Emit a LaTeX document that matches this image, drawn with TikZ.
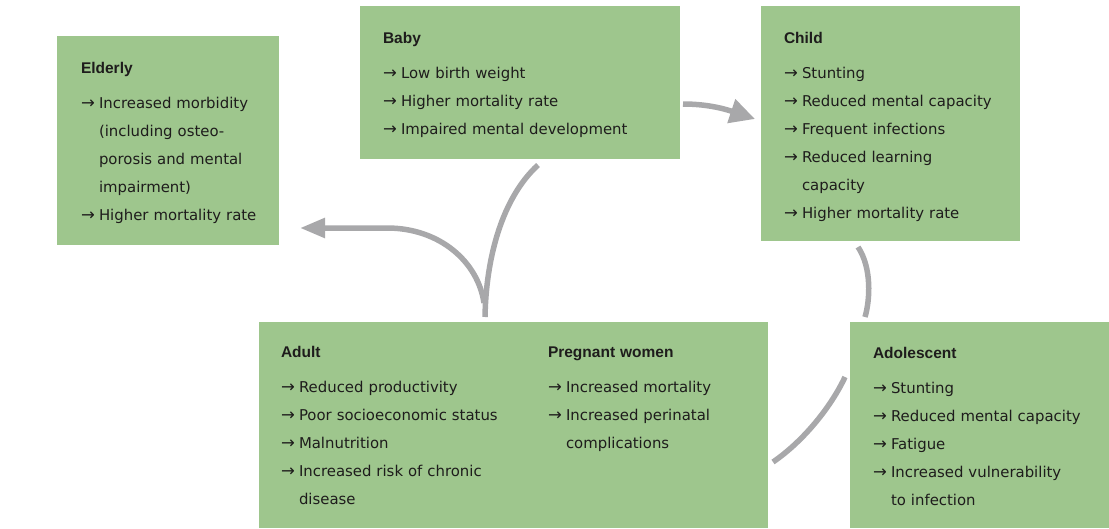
\documentclass[tikz,border=0pt]{standalone}
\usepackage{fontspec}
\setmainfont{Liberation Sans}
\newfontfamily\bodyf{DejaVu Sans}
\newfontfamily\headf{Liberation Sans}
\usetikzlibrary{arrows.meta}
\hyphenpenalty=10000
\exhyphenpenalty=10000
\definecolor{boxgreen}{RGB}{158,198,141}
\definecolor{conngray}{RGB}{168,168,170}
\definecolor{txtc}{RGB}{30,28,28}
\newcommand{\ar}{\makebox[18pt][l]{\fontsize{16.5}{28}\selectfont →}}
\newcommand{\ind}{\hspace*{18pt}}
\newcommand{\hd}[1]{\rule{0pt}{13pt}{\headf\bfseries\fontsize{15.5}{28}\selectfont #1}\\[7pt]}
\tikzset{
  box/.style={fill=boxgreen, draw=none, inner sep=0pt, outer sep=0pt, anchor=north west},
  txt/.style={anchor=north west, inner sep=0pt, outer sep=0pt, align=left, text width=320pt,
              text=txtc, font=\bodyf\fontsize{14.9}{28}\selectfont},
  conn/.style={draw=conngray, line width=5.5pt},
}
\begin{document}
\begin{tikzpicture}[x=1pt,y=-1pt]
\useasboundingbox (0,0) rectangle (1109,528);
% boxes
\node[box, minimum width=222pt, minimum height=209pt] (eld) at (57,36) {};
\node[box, minimum width=320pt, minimum height=153pt] (baby) at (360,6) {};
\node[box, minimum width=259pt, minimum height=235pt] (child) at (761,6) {};
\node[box, minimum width=509pt, minimum height=206pt] (adult) at (259,322) {};
\node[box, minimum width=259pt, minimum height=206pt] (adol) at (850,322) {};
% texts
\node[txt] (eldT) at (81,60) {\hd{Elderly}
\ar Increased morbidity\\
\ind(including osteo-\\
\ind porosis and mental\\
\ind impairment)\\
\ar Higher mortality rate};
\node[txt] (babyT) at (383,30) {\hd{Baby}
\ar Low birth weight\\
\ar Higher mortality rate\\
\ar Impaired mental development};
\node[txt] (childT) at (784,30) {\hd{Child}
\ar Stunting\\
\ar Reduced mental capacity\\
\ar Frequent infections\\
\ar Reduced learning\\
\ind capacity\\
\ar Higher mortality rate};
\node[txt] (adultT) at (281,344) {\hd{Adult}
\ar Reduced productivity\\
\ar Poor socioeconomic status\\
\ar Malnutrition\\
\ar Increased risk of chronic\\
\ind disease};
\node[txt] (pregT) at (548,344) {\hd{Pregnant women}
\ar Increased mortality\\
\ar Increased perinatal\\
\ind complications};
\node[txt] (adolT) at (873,345) {\hd{Adolescent}
\ar Stunting\\
\ar Reduced mental capacity\\
\ar Fatigue\\
\ar Increased vulnerability\\
\ind to infection};
% connector end points
\coordinate (bcS) at (683,104);
\coordinate (bcE) at (755,119);
\coordinate (caS) at (858,247);
\coordinate (caE) at (865,317);
\coordinate (aaS) at (845,377);
\coordinate (aaE) at (773,462);
\coordinate (abS) at (485,317);
\coordinate (abE) at (538,165);
\coordinate (aeS) at (484,303);
\coordinate (aeM) at (387,228);
\coordinate (aeE) at (300,228);
% connectors
\draw[conn, -{Triangle[length=25pt,width=24pt]}] (bcS) .. controls (705,104) and (722,108) .. (bcE);
\draw[conn] (caS) .. controls (872,268) and (870,300) .. (caE);
\draw[conn] (aaS) .. controls (832,405) and (805,440) .. (aaE);
\draw[conn] (abS) .. controls (486,258) and (502,198) .. (abE);
\draw[conn, -{Triangle[length=25pt,width=19pt]}] (aeS) .. controls (478,262) and (440,228) .. (aeM) -- (aeE);
\end{tikzpicture}
\end{document}
